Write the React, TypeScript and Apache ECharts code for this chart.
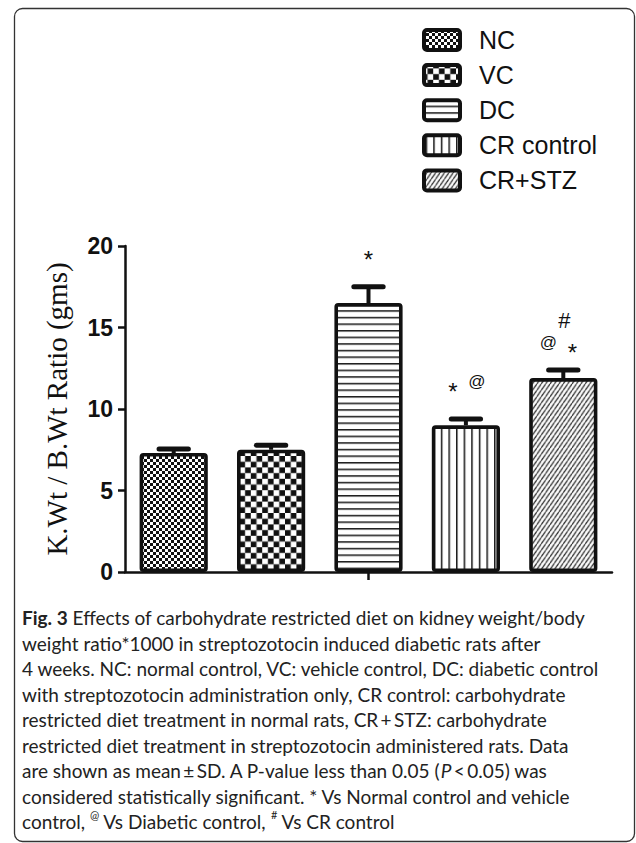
import React, { useEffect, useRef } from "react";
import * as echarts from "echarts";

// ---------- data ----------
const categories = ["NC", "VC", "DC", "CR control", "CR+STZ"];
const means = [7.3, 7.5, 16.5, 9.0, 11.9];
const sds = [0.25, 0.28, 1.0, 0.38, 0.5];
const yTicks = [0, 5, 10, 15, 20];
const yAxisTitle = "K.Wt / B.Wt Ratio (gms)";

// significance markers (category index, symbol, value where the mark sits)
const markCategory = [2, 3, 3, 4, 4, 4];
const markText = ["*", "*", "@", "#", "@", "*"];
const markValue = [19.2, 11.1, 11.7, 15.45, 14.1, 13.45];
// horizontal nudges of the marks, pixels (layout only)
const markDx = [0, -13, 11, 1, -15, 9];

const captionLines = [
  "{b|Fig. 3} Effects of carbohydrate restricted diet on kidney weight/body",
  "weight ratio*1000 in streptozotocin induced diabetic rats after",
  "4 weeks. NC: normal control, VC: vehicle control, DC: diabetic control",
  "with streptozotocin administration only, CR control: carbohydrate",
  "restricted diet treatment in normal rats, CR\u2009+\u2009STZ: carbohydrate",
  "restricted diet treatment in streptozotocin administered rats. Data",
  "are shown as mean\u2009\u00b1\u2009SD. A P-value less than 0.05 ({i|P}\u2009<\u20090.05) was",
  "considered statistically significant. * Vs Normal control and vehicle",
  "control, {sup|@} Vs Diabetic control, {sup|#} Vs CR control",
];

// ---------- patterns ----------
const R = 4;
function makePattern(w: number, h: number, draw: (ctx: CanvasRenderingContext2D, w: number, h: number) => void) {
  const c = document.createElement("canvas");
  c.width = Math.round(w * R);
  c.height = Math.round(h * R);
  const ctx = c.getContext("2d") as CanvasRenderingContext2D;
  ctx.scale(c.width / w, c.height / h);
  ctx.fillStyle = "#fff";
  ctx.fillRect(0, 0, w, h);
  draw(ctx, w, h);
  return { image: c, repeat: "repeat", imageWidth: w, imageHeight: h } as any;
}

function buildPatterns() {
  const ink = "#111";
  const nc = makePattern(6, 6, (ctx) => {
    ctx.fillStyle = ink;
    ctx.fillRect(0, 0, 6, 6);
    ctx.fillStyle = "#fff";
    ctx.fillRect(0, 0, 3, 3);
    ctx.fillRect(3, 3, 3, 3);
  });
  const vc = makePattern(11.4, 11.4, (ctx) => {
    ctx.fillStyle = ink;
    ctx.fillRect(0, 0, 11.4, 11.4);
    ctx.fillStyle = "#fff";
    ctx.fillRect(0, 0, 5.7, 5.7);
    ctx.fillRect(5.7, 5.7, 5.7, 5.7);
  });
  const dc = makePattern(10, 6.6, (ctx) => {
    ctx.fillStyle = ink;
    ctx.fillRect(0, 0, 10, 1.5);
  });
  const cr = makePattern(7.6, 10, (ctx) => {
    ctx.fillStyle = ink;
    ctx.fillRect(0, 0, 1.5, 10);
  });
  const crs = makePattern(4.4, 6.4, (ctx, w, h) => {
    ctx.strokeStyle = ink;
    ctx.lineWidth = 1.1;
    for (let k = -1; k <= 1; k++) {
      ctx.beginPath();
      ctx.moveTo(k * w, h);
      ctx.lineTo(k * w + w, 0);
      ctx.stroke();
    }
  });
  return [nc, vc, dc, cr, crs];
}

export default function App() {
  const ref = useRef<HTMLDivElement>(null);

  useEffect(() => {
    if (!ref.current) return;
    const chart = echarts.init(ref.current, undefined, { renderer: "svg" });
    const patterns = buildPatterns();
    const ink = "#111";

    const legendTop = 40;
    const legendStep = 35.1;
    const legendGraphics: any[] = [];
    categories.forEach((name, i) => {
      const cy = legendTop + i * legendStep;
      legendGraphics.push({
        type: "rect",
        shape: { x: 424, y: cy - 10, width: 36, height: 20, r: 3 },
        style: { fill: patterns[i], stroke: ink, lineWidth: 4 },
      });
      legendGraphics.push({
        type: "text",
        x: 479,
        y: cy,
        style: {
          text: name,
          fontFamily: "Liberation Sans, Arial, sans-serif",
          fontSize: 25,
          fill: ink,
          align: "left",
          verticalAlign: "middle",
        },
      });
    });

    const option: any = {
      animation: false,
      backgroundColor: "#fff",
      grid: { left: 125, right: 24, top: 246, bottom: 271, containLabel: false },
      xAxis: {
        type: "category",
        data: categories,
        boundaryGap: true,
        axisLine: { show: true, lineStyle: { color: ink, width: 2.5 } },
        axisTick: {
          show: true,
          alignWithLabel: true,
          interval: (idx: number) => idx === 2,
          length: 8,
          lineStyle: { color: ink, width: 2.5 },
        },
        axisLabel: { show: false },
        splitLine: { show: false },
      },
      yAxis: {
        type: "value",
        min: yTicks[0],
        max: yTicks[yTicks.length - 1],
        interval: yTicks[1] - yTicks[0],
        name: yAxisTitle,
        nameLocation: "middle",
        nameGap: 54,
        nameTextStyle: {
          fontFamily: "Liberation Serif, Times New Roman, serif",
          fontSize: 29,
          color: ink,
        },
        axisLine: { show: true, lineStyle: { color: ink, width: 2.5 } },
        axisTick: { show: true, length: 7, lineStyle: { color: ink, width: 2.5 } },
        axisLabel: {
          margin: 12,
          fontFamily: "Liberation Sans, Arial, sans-serif",
          fontWeight: "bold",
          fontSize: 23,
          color: ink,
        },
        splitLine: { show: false },
      },
      series: [
        {
          type: "bar",
          barWidth: "70%",
          data: means.map((m, i) => ({
            value: m,
            itemStyle: {
              color: patterns[i],
              borderColor: ink,
              borderWidth: 3.6,
              borderRadius: 2,
            },
          })),
          z: 2,
        },
        {
          type: "custom",
          data: means.map((m, i) => [i, m, sds[i]]),
          encode: { x: 0, y: 1 },
          z: 3,
          renderItem: (params: any, api: any) => {
            const i = api.value(0);
            const m = api.value(1);
            const s = api.value(2);
            const base = api.coord([i, m]);
            const top = api.coord([i, m + s]);
            const bw = api.size([1, 0])[0] * 0.7;
            const capHalf = bw * 0.215;
            return {
              type: "group",
              children: [
                {
                  type: "line",
                  shape: { x1: base[0], y1: base[1], x2: top[0], y2: top[1] },
                  style: { stroke: ink, lineWidth: 4 },
                },
                {
                  type: "line",
                  shape: { x1: top[0] - capHalf, y1: top[1], x2: top[0] + capHalf, y2: top[1] },
                  style: { stroke: ink, lineWidth: 5, lineCap: "round" },
                },
              ],
            };
          },
        },
        {
          type: "custom",
          data: markCategory.map((c, i) => [c, markValue[i]]),
          encode: { x: 0, y: 1 },
          z: 4,
          renderItem: (params: any, api: any) => {
            const idx = params.dataIndex;
            const p = api.coord([api.value(0), api.value(1)]);
            const t = markText[idx];
            const size = t === "@" ? 17 : t === "#" ? 22 : 24;
            return {
              type: "text",
              x: p[0] + markDx[idx],
              y: p[1],
              style: {
                text: t,
                fontFamily: "Liberation Sans, Arial, sans-serif",
                fontSize: size,
                fill: ink,
                align: "center",
                verticalAlign: "middle",
              },
            };
          },
        },
      ],
      graphic: [
        {
          type: "rect",
          shape: { x: 14.5, y: 8.5, width: 620, height: 833, r: 8 },
          style: { fill: "none", stroke: "#333", lineWidth: 1.3 },
          z: 0,
        },
        ...legendGraphics,
        {
          type: "text",
          x: 22,
          y: 605,
          style: {
            text: captionLines.join("\n"),
            fontFamily: "Lato, 'Open Sans', sans-serif",
            fontSize: 19,
            lineHeight: 25.5,
            fill: "#222",
            align: "left",
            verticalAlign: "top",
            rich: {
              b: {
                fontFamily: "Lato, 'Open Sans', sans-serif",
                fontSize: 19,
                fontWeight: "bold",
                lineHeight: 25.5,
                fill: "#222",
              },
              i: {
                fontFamily: "Lato, 'Open Sans', sans-serif",
                fontSize: 19,
                fontStyle: "italic",
                lineHeight: 25.5,
                fill: "#222",
              },
              sup: {
                fontFamily: "Lato, 'Open Sans', sans-serif",
                fontSize: 11,
                lineHeight: 14,
                verticalAlign: "top",
                fill: "#222",
              },
            },
          },
        },
      ],
    };

    chart.setOption(option);
    return () => chart.dispose();
  }, []);

  return (
    <div
      ref={ref}
      style={{ position: "absolute", left: 0, top: 0, width: 636, height: 843, background: "#fff" }}
    />
  );
}
